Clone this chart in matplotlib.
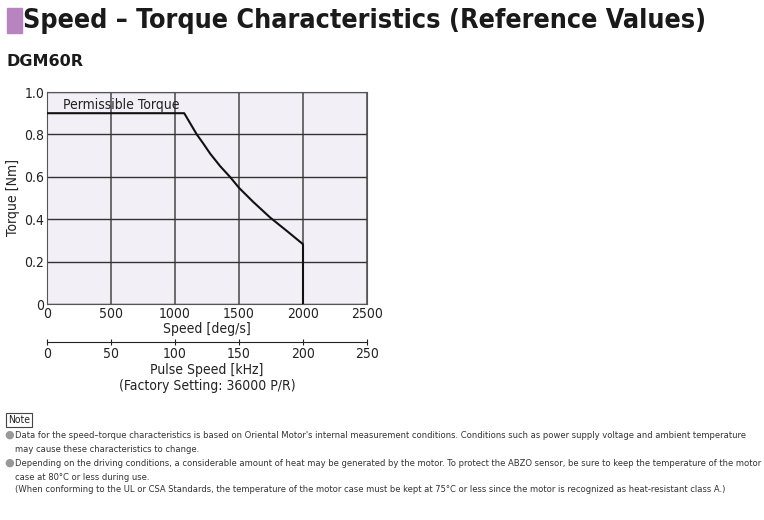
import matplotlib.pyplot as plt
from matplotlib.patches import Rectangle

plt.rcParams['font.family'] = ['DejaVu Sans']
plt.rcParams['font.stretch'] = 'condensed'

# Speed-torque curve
speed = [0, 1072, 1170, 1222, 1275, 1353, 1432, 1500, 1612, 1743, 1875, 2000, 2000]
torque = [0.9, 0.9, 0.8, 0.756, 0.709, 0.65, 0.598, 0.548, 0.481, 0.408, 0.344, 0.282, 0.0]

speed_ticks = [0, 500, 1000, 1500, 2000, 2500]
torque_ticks = [0, 0.2, 0.4, 0.6, 0.8, 1.0]
torque_labels = ["0", "0.2", "0.4", "0.6", "0.8", "1.0"]
pulse_ticks = [0, 50, 100, 150, 200, 250]

notes = [
    ("\u25cf", "Data for the speed\u2013torque characteristics is based on Oriental Motor's internal measurement conditions. Conditions such as power supply voltage and ambient temperature"),
    ("", "may cause these characteristics to change."),
    ("\u25cf", "Depending on the driving conditions, a considerable amount of heat may be generated by the motor. To protect the ABZO sensor, be sure to keep the temperature of the motor"),
    ("", "case at 80\u00b0C or less during use."),
    ("", "(When conforming to the UL or CSA Standards, the temperature of the motor case must be kept at 75\u00b0C or less since the motor is recognized as heat-resistant class A.)"),
]

fig = plt.figure(figsize=(7.64, 5.20), dpi=100)
W, H = 764, 520

def fx(px):
    return px / W

def fy(py):
    return 1 - py / H

# header
fig.patches.append(Rectangle((fx(7), fy(33)), 15 / W, 25 / H, transform=fig.transFigure,
                             color='#b784c0', zorder=0))
fig.text(fx(23), fy(21), "Speed \u2013 Torque Characteristics (Reference Values)",
         fontsize=19.3, fontweight='bold', color='#1a1a1a', va='center', ha='left')
fig.text(fx(7), fy(62), "DGM60R", fontsize=11.5, fontweight='bold', color='#1a1a1a',
         va='center', ha='left', fontstretch='normal')

# main chart
ax = fig.add_axes([fx(47), fy(304), 320 / W, 212 / H])
ax.set_facecolor('#f3eff6')
ax.plot(speed, torque, color='#111111', lw=1.5, zorder=3, solid_joinstyle='round')
ax.set_xlim(0, 2500)
ax.set_ylim(0, 1.0)
ax.set_xticks(speed_ticks)
ax.set_yticks(torque_ticks)
ax.set_yticklabels(torque_labels)
ax.xaxis.grid(True, color='#555555', lw=1.2)
ax.yaxis.grid(True, color='#333333', lw=1.0)
ax.tick_params(length=0, labelsize=10, pad=2, colors='#222222')
for s in ax.spines.values():
    s.set_color('#555555')
    s.set_linewidth(0.8)
ax.set_xlabel("Speed [deg/s]", fontsize=10, labelpad=1, color='#222222')
ax.set_ylabel("Torque [Nm]", fontsize=10, labelpad=3, color='#222222')
ax.text(125, 0.905, "Permissible Torque", fontsize=10, va='bottom', ha='left', color='#222222')

# pulse-speed axis
sec = ax.secondary_xaxis(-0.178, functions=(lambda x: x / 10, lambda x: x * 10))
sec.set_xticks(pulse_ticks)
sec.tick_params(length=4, direction='inout', labelsize=10, pad=2, colors='#222222')
sec.spines['bottom'].set_color('#222222')
sec.set_xlabel("Pulse Speed [kHz]\n(Factory Setting: 36000 P/R)", fontsize=10,
               labelpad=1, color='#222222', linespacing=1.2)

# notes
fig.text(fx(8), fy(420), "Note", fontsize=7.5, va='center', ha='left', color='#222222',
         bbox=dict(boxstyle='square,pad=0.15', fc='white', ec='#444444', lw=0.8))
ys = [435, 449, 463, 477, 490]
for (bullet, line), y in zip(notes, ys):
    if bullet:
        fig.text(fx(4), fy(y), bullet, fontsize=8, va='center', ha='left', color='#999999',
                 fontstretch='normal')
    fig.text(fx(15), fy(y), line, fontsize=6.75, va='center', ha='left', color='#333333')

fig.savefig("out.png", dpi=100)
